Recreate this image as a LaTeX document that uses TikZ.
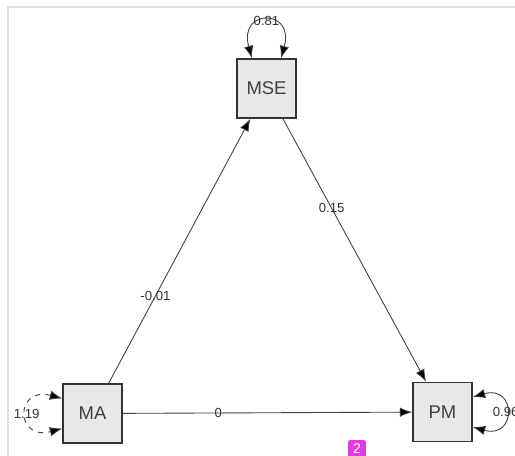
\documentclass[tikz,border=0pt]{standalone}
\usepackage{fontspec}
\setmainfont{Liberation Sans}
\usetikzlibrary{arrows.meta}
\definecolor{badgepink}{RGB}{226,59,226}

\begin{document}
\begin{tikzpicture}[x=0.02cm,y=-0.02cm,
			var/.style={
					draw=black!80,
					line width=0.8pt,
					fill=black!9,
					minimum size=1.18cm,
					inner sep=0pt,
					text=black!75,
					font=\fontsize{10.5}{12}\selectfont
				},
			reg/.style={draw=black!75, line width=0.5pt, -{Latex[length=2.5mm,width=1.9mm,fill=black]}},
			cov/.style={draw=black!75, line width=0.5pt, {Latex[length=2.5mm,width=1.9mm,fill=black]}-{Latex[length=2.5mm,width=1.9mm,fill=black]}},
			coef/.style={text=black!80, inner sep=0pt, font=\fontsize{7.5}{8}\selectfont},
			frame/.style={draw=black!12, line width=0.9pt}
		]
		\useasboundingbox (0,0) rectangle (515,456);
		\clip (0,0) rectangle (515,456);
		\draw[frame] (8,456) -- (8,7) -- (515,7);

		% variables
		\node[var] (mse) at (266.5,88.5) {MSE};
		\node[var] (ma) at (92.5,413.5) {MA};
		\node[var] (pm) at (442.5,412) {PM};

		% regressions
		\draw[reg] (ma) -- node[coef, pos=0.33] {-0.01} (mse);
		\draw[reg] (mse) -- node[coef, pos=0.34] {0.15} (pm);
		\draw[reg] (ma) -- node[coef, pos=0.33] {0} (pm);

		% variances
		\draw[cov] ([xshift=-0.29cm]mse.north) .. controls +(-0.28cm,1.0cm) and +(0.28cm,1.0cm) .. ([xshift=0.29cm]mse.north)
		node[coef, pos=0.5] {0.81};
		\draw[cov, dashed] ([yshift=0.3cm]ma.west) .. controls +(-0.95cm,0.25cm) and +(-0.95cm,-0.25cm) .. ([yshift=-0.3cm]ma.west)
		node[coef, pos=0.5] {1.19};
		\draw[cov] ([yshift=0.3cm]pm.east) .. controls +(0.88cm,0.25cm) and +(0.88cm,-0.25cm) .. ([yshift=-0.3cm]pm.east)
		node[coef, pos=0.5] {0.96};

		\node[fill=badgepink, rounded corners=1pt, text=white, minimum width=0.36cm, minimum height=0.36cm, inner sep=0pt, font=\fontsize{8}{9}\selectfont] (badge) at (357,449) {2};
	\end{tikzpicture}
\end{document}
